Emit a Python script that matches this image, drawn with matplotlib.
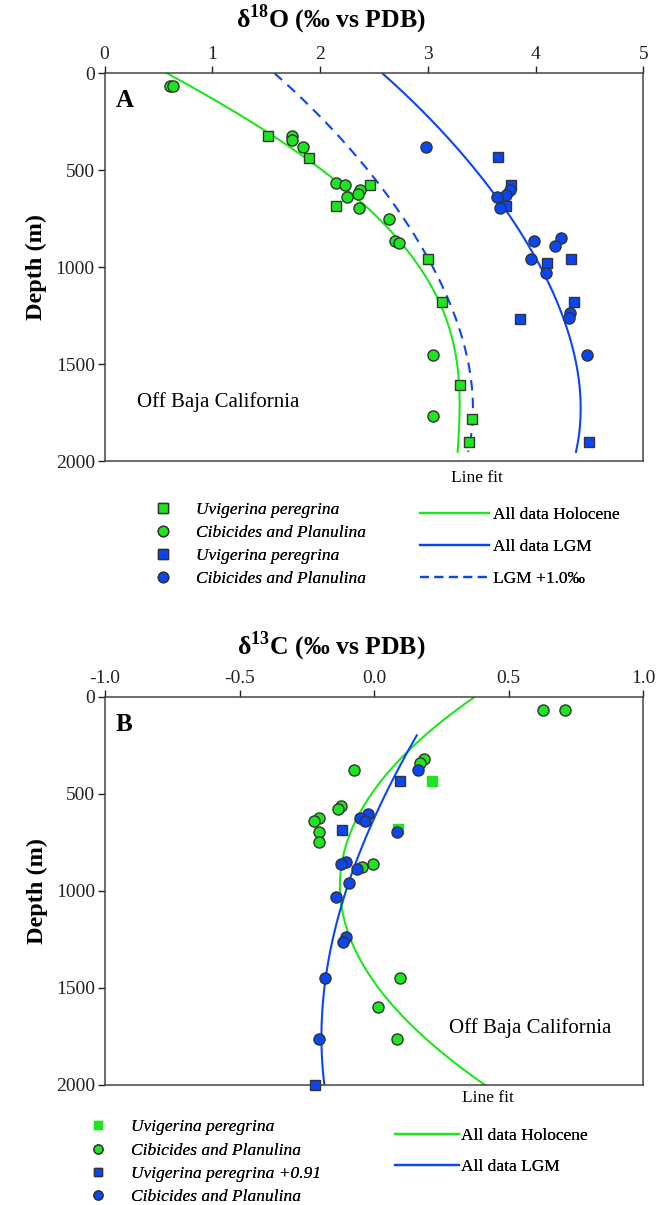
import matplotlib
matplotlib.use("Agg")
import numpy as np
import matplotlib.pyplot as plt
from matplotlib.lines import Line2D

plt.rcParams["font.family"] = ["Liberation Serif", "DejaVu Serif"]
plt.rcParams["mathtext.fontset"] = "custom"
plt.rcParams["mathtext.rm"] = "Liberation Serif"
plt.rcParams["mathtext.bf"] = "Liberation Serif:bold"
plt.rcParams["axes.unicode_minus"] = False

GREEN = "#1ee61e"
BLUE = "#0a46f5"
EDGE = "#333333"

# ---------------- panel A : d18O ----------------
a_hol_sq_x = [1.52, 1.90, 2.46, 2.15, 3.00, 3.13, 3.30, 3.41, 3.38]
a_hol_sq_d = [324, 436, 578, 687, 957, 1181, 1606, 1785, 1904]
a_hol_ci_x = [0.61, 0.64, 1.74, 1.74, 1.84, 2.15, 2.23, 2.37, 2.35, 2.25, 2.36,
              2.64, 2.70, 2.73, 3.05, 3.05]
a_hol_ci_d = [69, 69, 324, 345, 382, 565, 578, 602, 623, 639, 695,
              750, 864, 878, 1451, 1766]
a_lgm_sq_x = [3.65, 3.77, 3.73, 4.33, 4.11, 4.36, 3.86, 4.50]
a_lgm_sq_d = [434, 578, 685, 957, 978, 1181, 1270, 1904]
a_lgm_ci_x = [2.98, 3.76, 3.73, 3.64, 3.67, 3.99, 4.24, 4.18, 3.96, 4.10,
              4.32, 4.31, 4.48]
a_lgm_ci_d = [382, 602, 627, 640, 695, 864, 850, 890, 960, 1033,
              1239, 1262, 1451]

# line fits, points traced along the curves of the figure
a_fit_hol_d = [0, 129, 313, 434, 542, 671, 766, 869, 1058, 1188, 1342, 1549, 1687, 1824, 1953]
a_fit_hol_x = [0.58, 0.98, 1.52, 1.90, 2.13, 2.38, 2.56, 2.70, 3.00, 3.14, 3.23, 3.28, 3.28, 3.28, 3.29]
a_fit_lgm_d = [0, 120, 241, 350, 450, 545, 637, 720, 800, 912, 1067, 1256, 1428, 1560, 1686, 1820, 1953]
a_fit_lgm_x = [2.56, 2.82, 3.05, 3.22, 3.37, 3.50, 3.62, 3.73, 3.82, 3.97, 4.11, 4.28, 4.36, 4.39, 4.40, 4.40, 4.39]
LGM_SHIFT = 1.0

# ---------------- panel B : d13C ----------------
b_hol_sq_x = [0.214, 0.090]
b_hol_sq_d = [432, 681]
b_hol_ci_x = [0.627, 0.709, 0.186, 0.170, -0.074, -0.124, -0.134, -0.204, -0.223,
              -0.204, -0.204, -0.004, -0.043, 0.097, 0.016, 0.087]
b_hol_ci_d = [69, 69, 319, 341, 379, 561, 575, 625, 639,
              694, 749, 862, 878, 1451, 1600, 1764]
b_lgm_sq_x = [0.097, -0.118, -0.219]
b_lgm_sq_d = [432, 685, 2000]
b_lgm_ci_x = [0.165, -0.022, -0.053, -0.033, 0.087, -0.103, -0.124, -0.064,
              -0.093, -0.142, -0.105, -0.115, -0.183, -0.204]
b_lgm_ci_d = [379, 601, 625, 639, 694, 849, 861, 888,
              960, 1029, 1236, 1262, 1451, 1764]

b_fit_hol_d = [2, 126, 315, 504, 676, 849, 1021, 1193, 1365, 1502, 1675, 1847, 1998]
b_fit_hol_x = [0.372, 0.254, 0.099, -0.019, -0.081, -0.112, -0.118, -0.099, -0.056, 0.006, 0.130, 0.279, 0.403]
b_fit_lgm_d = [198, 367, 625, 797, 986, 1193, 1451, 1709, 1881, 1998]
b_fit_lgm_x = [0.157, 0.093, 0.006, -0.056, -0.105, -0.142, -0.180, -0.194, -0.192, -0.186]

TICK_FS = 14
W, H = 657.0, 1205.0


def smooth_fit(d, x, deg):
    # the curves are polynomial line fits: refit the traced points so they draw smooth
    coef = np.polyfit(d, x, deg)
    dd = np.linspace(min(d), max(d), 200)
    return np.polyval(coef, dd), dd


def style_axis(ax, xlim, xticks, xfmt, title, letter, title_y):
    ax.set_xlim(*xlim)
    ax.set_ylim(2000, 0)
    ax.xaxis.tick_top()
    ax.set_xticks(xticks)
    ax.set_xticklabels([xfmt.format(t) for t in xticks])
    ax.set_yticks([0, 500, 1000, 1500, 2000])
    ax.tick_params(direction="out", length=5, width=1, labelsize=TICK_FS,
                   colors="#222222", pad=2)
    for sp in ax.spines.values():
        sp.set_color("#444444")
        sp.set_linewidth(1.1)
    fig.text(331 / W, 1 - title_y / H, title, fontsize=18.5, fontweight="bold",
             ha="center", va="center")
    ax.set_ylabel("Depth (m)", fontsize=17.5, fontweight="bold", labelpad=6)
    ax.text(0.02, 0.93, letter, transform=ax.transAxes, fontsize=18,
            fontweight="bold", va="center", ha="left")


def draw_points(ax, xs, ds, marker, color, ms, edge=EDGE):
    ax.plot(xs, ds, linestyle="none", marker=marker, markersize=ms,
            markerfacecolor=color, markeredgecolor=edge, markeredgewidth=1.0,
            zorder=4, clip_on=False)


fig = plt.figure(figsize=(6.57, 12.05), dpi=100)

# ── panel A ────────────────────────────────────────────────
axA = fig.add_axes([0.1591, 0.6174, 0.820, 0.322])
hx, hd = smooth_fit(a_fit_hol_d, a_fit_hol_x, 4)
lx, ld = smooth_fit(a_fit_lgm_d, a_fit_lgm_x, 4)
axA.plot(hx, hd, color=GREEN, lw=1.5, zorder=2)
axA.plot(lx, ld, color=BLUE, lw=1.5, zorder=2)
axA.plot(lx - LGM_SHIFT, ld, color=BLUE, lw=1.5,
         linestyle=(0, (5, 3.5)), zorder=2)
draw_points(axA, a_hol_sq_x, a_hol_sq_d, "s", GREEN, 7.5)
draw_points(axA, a_hol_ci_x, a_hol_ci_d, "o", GREEN, 8)
draw_points(axA, a_lgm_sq_x, a_lgm_sq_d, "s", BLUE, 7.5)
draw_points(axA, a_lgm_ci_x, a_lgm_ci_d, "o", BLUE, 8)
style_axis(axA, (0, 5), [0, 1, 2, 3, 4, 5], "{:g}",
           r"δ$^{\mathbf{18}}$O (‰ vs PDB)", "A", 19)
axA.text(0.061, 0.152, "Off Baja California", transform=axA.transAxes,
         fontsize=15, va="center", ha="left")

# ── panel B ────────────────────────────────────────────────
axB = fig.add_axes([0.1598, 0.0996, 0.819, 0.322])
hx, hd = smooth_fit(b_fit_hol_d, b_fit_hol_x, 3)
lx, ld = smooth_fit(b_fit_lgm_d, b_fit_lgm_x, 3)
axB.plot(hx, hd, color=GREEN, lw=1.5, zorder=2)
axB.plot(lx, ld, color=BLUE, lw=1.5, zorder=2)
draw_points(axB, b_hol_sq_x, b_hol_sq_d, "s", GREEN, 6.5, edge=GREEN)
draw_points(axB, b_hol_ci_x, b_hol_ci_d, "o", GREEN, 8)
draw_points(axB, b_lgm_sq_x, b_lgm_sq_d, "s", BLUE, 7.5)
draw_points(axB, b_lgm_ci_x, b_lgm_ci_d, "o", BLUE, 8)
style_axis(axB, (-1.0, 1.0), [-1.0, -0.5, 0.0, 0.5, 1.0], "{:.1f}",
           r"δ$^{\mathbf{13}}$C (‰ vs PDB)", "B", 646)
axB.text(0.639, 0.147, "Off Baja California", transform=axB.transAxes,
         fontsize=15, va="center", ha="left")


# ── legends ────────────────────────────────────────────────
def mk(marker, color, ms, edge=EDGE):
    return Line2D([], [], linestyle="none", marker=marker, markersize=ms,
                  markerfacecolor=color, markeredgecolor=edge, markeredgewidth=1.0)


def ln(color, ls="-"):
    return Line2D([], [], color=color, lw=1.6, linestyle=ls)


legA1 = fig.legend(
    handles=[mk("s", GREEN, 7), mk("o", GREEN, 7.5), mk("s", BLUE, 7), mk("o", BLUE, 7.5)],
    labels=["Uvigerina peregrina", "Cibicides and Planulina",
            "Uvigerina peregrina", "Cibicides and Planulina"],
    loc="upper left", bbox_to_anchor=(154 / W, 1 - 502 / H), frameon=False,
    borderpad=0, borderaxespad=0, handlelength=1.0, handletextpad=1.4,
    labelspacing=0.40, prop={"style": "italic", "size": 12.5})
fig.add_artist(legA1)
legA2 = fig.legend(
    handles=[ln(GREEN), ln(BLUE), ln(BLUE, (0, (4, 2.5)))],
    labels=["All data Holocene", "All data LGM", "LGM +1.0‰"],
    loc="upper left", bbox_to_anchor=(420 / W, 1 - 507 / H), frameon=False,
    borderpad=0, borderaxespad=0, handlelength=4.0, handletextpad=0.2,
    labelspacing=0.90, prop={"size": 12.5})
fig.add_artist(legA2)
fig.text(477 / W, 1 - 478 / H, "Line fit", fontsize=12.5, ha="center", va="center")

legB1 = fig.legend(
    handles=[mk("s", GREEN, 6, edge=GREEN), mk("o", GREEN, 6.5),
             mk("s", BLUE, 6), mk("o", BLUE, 6.5)],
    labels=["Uvigerina peregrina", "Cibicides and Planulina",
            "Uvigerina peregrina +0.91", "Cibicides and Planulina"],
    loc="upper left", bbox_to_anchor=(89 / W, 1 - 1119 / H), frameon=False,
    borderpad=0, borderaxespad=0, handlelength=1.0, handletextpad=1.4,
    labelspacing=0.42, prop={"style": "italic", "size": 12.5})
fig.add_artist(legB1)
legB2 = fig.legend(
    handles=[ln(GREEN), ln(BLUE)],
    labels=["All data Holocene", "All data LGM"],
    loc="upper left", bbox_to_anchor=(395 / W, 1 - 1128 / H), frameon=False,
    borderpad=0, borderaxespad=0, handlelength=3.7, handletextpad=0.1,
    labelspacing=0.85, prop={"size": 12.5})
fig.add_artist(legB2)
fig.text(488 / W, 1 - 1098 / H, "Line fit", fontsize=12.5, ha="center", va="center")

fig.savefig("out.png", dpi=100)
plt.close(fig)
